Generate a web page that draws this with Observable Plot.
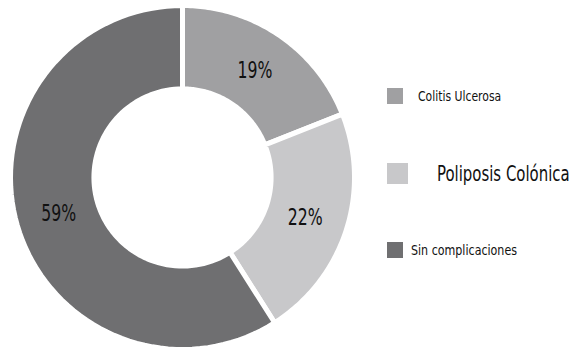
<!DOCTYPE html>
<html><head><meta charset="utf-8">
<script src="https://cdn.jsdelivr.net/npm/d3@7"></script>
<script src="https://cdn.jsdelivr.net/npm/@observablehq/plot@0.6"></script>
<style>
html,body{margin:0;padding:0;background:#fff;}
#wrap{position:relative;width:576px;height:351px;font-family:"DejaVu Sans Condensed","DejaVu Sans",sans-serif;font-stretch:condensed;}
.lg{position:absolute;display:flex;align-items:center;color:#111;white-space:nowrap;}
.sw{display:inline-block;flex:none;}
.tx{display:inline-block;transform-origin:left center;}
</style></head>
<body><div id="wrap"></div>
<script>
const categories = ["Colitis Ulcerosa", "Poliposis Colónica", "Sin complicaciones"];
const values = [19, 22, 59];
const labels = ["19%", "22%", "59%"];
const colors = ["#a0a0a2", "#c8c8ca", "#6f6f71"];

const innerR = 0.515, outerR = 1.0;
const arcs = d3.pie().sort(null).value(d => d)(values);
const pts = [];
arcs.forEach((a, i) => {
  const n = 80;
  for (let k = 0; k <= n; k++) {
    const t = a.startAngle + (a.endAngle - a.startAngle) * k / n;
    pts.push({cat: categories[i], x: Math.sin(t) * outerR, y: Math.cos(t) * outerR});
  }
  for (let k = n; k >= 0; k--) {
    const t = a.startAngle + (a.endAngle - a.startAngle) * k / n;
    pts.push({cat: categories[i], x: Math.sin(t) * innerR, y: Math.cos(t) * innerR});
  }
});
const labelR = 0.75;
const lab = arcs.map((a, i) => {
  const m = (a.startAngle + a.endAngle) / 2;
  return {label: labels[i], x: Math.sin(m) * labelR, y: Math.cos(m) * labelR};
});

const cx = 182, cy = 177, R = 172;
const chart = Plot.plot({
  width: 576, height: 351,
  margin: 0,
  x: {domain: [-1, 1], range: [cx - R, cx + R], axis: null},
  y: {domain: [-1, 1], range: [cy + R, cy - R], axis: null},
  color: {domain: categories, range: colors},
  style: {fontFamily: '"DejaVu Sans Condensed","DejaVu Sans",sans-serif'},
  marks: [
    Plot.line(pts, {x: "x", y: "y", z: "cat", fill: "cat", stroke: "white", strokeWidth: 5, curve: "linear-closed"}),
    Plot.text(lab, {x: "x", y: "y", text: "label", fontSize: 23, fill: "#111"})
  ]
});
const wrap = document.getElementById("wrap");
wrap.appendChild(chart);
// condense the slice labels horizontally
chart.querySelectorAll("text").forEach(t => {
  const tr = t.getAttribute("transform") || "";
  t.setAttribute("transform", tr + " scale(0.76,1)");
});

const legendStyle = [
  {left: 387, top: 88, sw: 16, fs: 14, gap: 15, sx: 0.86},
  {left: 387, top: 163, sw: 21, fs: 21, gap: 29, sx: 0.79},
  {left: 387, top: 242, sw: 16, fs: 14, gap: 8, sx: 0.88}
];
categories.forEach((c, i) => {
  const s = legendStyle[i];
  const d = document.createElement("div");
  d.className = "lg";
  d.style.left = s.left + "px"; d.style.top = s.top + "px";
  d.style.height = s.sw + "px";
  d.style.fontSize = s.fs + "px";
  d.innerHTML = `<span class="sw" style="width:${s.sw}px;height:${s.sw}px;background:${colors[i]};margin-right:${s.gap}px"></span><span class="tx" style="transform:scaleX(${s.sx})">${c}</span>`;
  wrap.appendChild(d);
});
</script></body></html>
